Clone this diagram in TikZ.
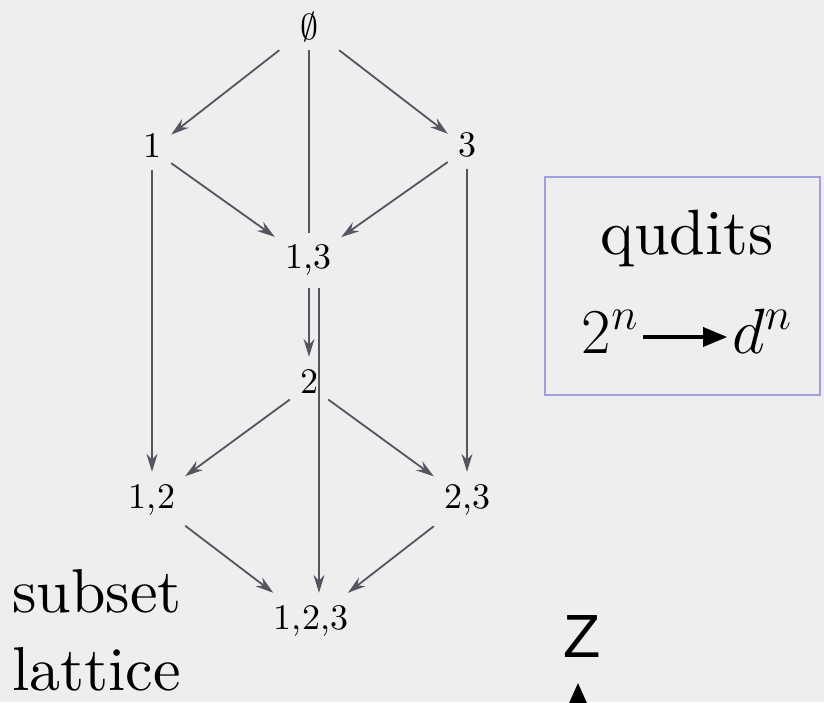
\RequirePackage{fix-cm}
\documentclass[tikz,border=0pt]{standalone}
\usepackage{fontspec}
\setmainfont{lmroman10-regular.otf}
\newfontfamily\zfont{Liberation Sans}
\usetikzlibrary{arrows.meta}
\definecolor{bgc}{HTML}{EEEEEE}
\definecolor{edgec}{HTML}{555562}
\definecolor{boxc}{HTML}{A0A0DC}
\pgfdeclarelayer{bglayer}
\pgfsetlayers{bglayer,main}
\tikzset{
  lbl/.style={font=\fontsize{36}{40}\selectfont, text height=23pt, text depth=7pt, inner xsep=10pt, inner ysep=5pt},
  arr/.style={draw=edgec, line width=1.8pt, -{Stealth[length=18pt,width=11pt,inset=6pt]}},
  big/.style={font=\fontsize{64}{70}\selectfont, inner sep=0pt},
  side/.style={font=\fontsize{62}{70}\selectfont, inner sep=0pt, anchor=base west},
}
\begin{document}
\begin{tikzpicture}[x=1pt,y=-1pt]
\useasboundingbox (0,0) rectangle (824,702);
\clip (0,0) rectangle (824,702);
% lattice nodes
\node[font=\fontsize{36}{40}\selectfont, inner sep=0pt, minimum width=60pt, minimum height=46pt] (E) at (309,27) {$\emptyset$};
\node[lbl] (n1) at (152,149.5) {1};
\node[lbl] (n3) at (467,148.5) {3};
\node[lbl, inner ysep=12.5pt, fill=bgc] (n13) at (308,260.5) {1,3};
\node[lbl, inner ysep=13.5pt] (n2) at (309,385.5) {2};
\node[lbl, inner ysep=13.5pt] (n12) at (152,500.5) {1,2};
\node[lbl, inner ysep=13.5pt] (n23) at (467,500.5) {2,3};
\node[lbl, inner ysep=13.5pt] (n123) at (311,621.5) {1,2,3};
\begin{pgfonlayer}{bglayer}
\fill[bgc] (0,0) rectangle (824,702);
\draw[arr] (E) -- (n1);
\draw[arr] (E) -- (n3);
\draw[arr] (E) -- (n2);
\draw[arr] (n1) -- (n13);
\draw[arr] (n3) -- (n13);
\draw[arr] (n1) -- (n12);
\draw[arr] (n3) -- (n23);
\draw[arr] (n2) -- (n12);
\draw[arr] (n2) -- (n23);
\draw[arr] ([xshift=11pt]n13.south) -- ([xshift=8pt]n123.north);
\draw[arr] (n12) -- (n123);
\draw[arr] (n23) -- (n123);
\end{pgfonlayer}
% qudits box
\node[draw=boxc, line width=1.5pt, minimum width=275pt, minimum height=218pt, inner sep=0pt] (box) at (682.5,286) {};
\node[big] (qud) at (687,238.5) {qudits};
\node[big, anchor=base] (pow2) at (610,353) {$2^n$};
\node[big, anchor=base] (dn) at (762,353) {$d^n$};
\draw[line width=3.5pt, -{Triangle[length=24pt,width=19pt]}] ([xshift=5pt,yshift=16pt]pow2.base east) -- ([xshift=-5pt,yshift=16pt]dn.base west);
% side labels
\node[side] (sub) at (12,612) {subset};
\node[side] (lat) at (12,690) {lattice};
% z axis
\node[font={\zfont\fontsize{61}{70}\selectfont}, inner sep=0pt, anchor=base] (Z) at (582,657) {Z};
\coordinate (zb) at (578,760);
\coordinate (zt) at (578,683);
\draw[line width=3pt, -{Triangle[length=30pt,width=26pt]}] (zb) -- (zt);
\end{tikzpicture}
\end{document}
